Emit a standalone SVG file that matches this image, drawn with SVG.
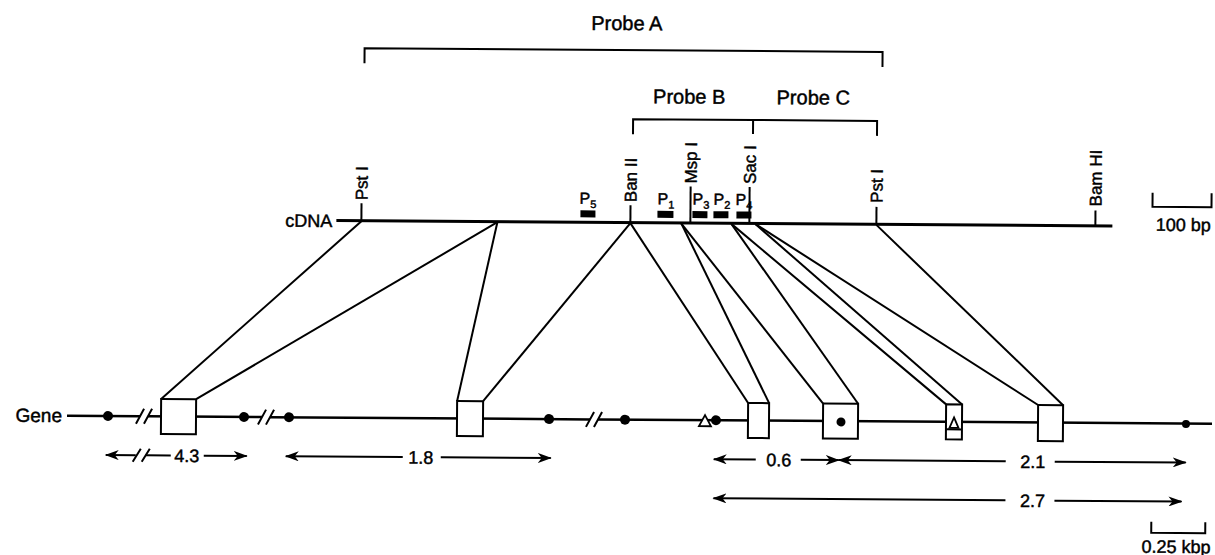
<svg xmlns="http://www.w3.org/2000/svg" width="1215" height="555" viewBox="0 0 1215 555">
<style>
text{font-family:"Liberation Sans",Arial,Helvetica,sans-serif;fill:#000;stroke:#000;stroke-width:0.45}
.ln{stroke:#000;stroke-width:2;fill:none}
.th{stroke:#000;stroke-width:3;fill:none}
.gl{stroke:#000;stroke-width:2.5;fill:none}
.big{font-size:20px}
.re{font-size:17px}
.dm{font-size:18px}
.gn{font-size:19px}
.pl{font-size:16px}
.sub{font-size:11px}
.ex{fill:#fff;stroke:#000;stroke-width:2}
.dot{fill:#000}
.pr{fill:#000}
.arr{stroke:#000;stroke-width:2;fill:none;marker-end:url(#ah)}
</style>
<defs>
<marker id="ah" viewBox="0 0 14 10" refX="13" refY="5" markerWidth="14" markerHeight="10" markerUnits="userSpaceOnUse" orient="auto">
<path d="M0,0 L14,5 L0,10 L4,5 Z" fill="#000"/>
</marker>
</defs>
<rect width="1215" height="555" fill="#fff"/>
<g transform="rotate(0.4 607 277)">
<g id="probe-a">
<path class="ln" d="M363,65 V50 H881 V65"/>
<text class="big" x="625" y="30" text-anchor="middle">Probe A</text>
</g>
<g id="probe-b">
<path class="ln" d="M632,134 V119 H752 V133"/>
<text class="big" x="688" y="103" text-anchor="middle">Probe B</text>
</g>
<g id="probe-c">
<path class="ln" d="M752,119 H876 V134"/>
<text class="big" x="812" y="103" text-anchor="middle">Probe C</text>
</g>
<g id="cdna">
<line class="th" x1="336" y1="222.5" x2="1112" y2="222.5"/>
<text class="dm" x="332" y="229" text-anchor="end">cDNA</text>
</g>
<g id="site-pst1-left">
<line class="ln" x1="361" y1="222.5" x2="361" y2="205"/>
<text class="re" transform="translate(367,202) rotate(-90)">Pst I</text>
</g>
<g id="site-ban2">
<line class="ln" x1="630" y1="222.5" x2="630" y2="205"/>
<text class="re" transform="translate(636,202) rotate(-90)">Ban II</text>
</g>
<g id="site-msp1">
<line class="ln" x1="690" y1="222.5" x2="690" y2="186"/>
<text class="re" transform="translate(696,183) rotate(-90)">Msp I</text>
</g>
<g id="site-sac1">
<line class="ln" x1="749" y1="222.5" x2="749" y2="186"/>
<text class="re" transform="translate(755,183) rotate(-90)">Sac I</text>
</g>
<g id="site-pst1-right">
<line class="ln" x1="876" y1="222.5" x2="876" y2="205"/>
<text class="re" transform="translate(882,201) rotate(-90)">Pst I</text>
</g>
<g id="site-bamh1">
<line class="ln" x1="1095" y1="222.5" x2="1095" y2="207"/>
<text class="re" transform="translate(1101,203) rotate(-90)">Bam HI</text>
</g>
<g id="p5"><rect class="pr" x="580" y="210.5" width="15" height="7"/><text class="pl" x="579" y="204">P<tspan class="sub" dy="4">5</tspan></text></g>
<g id="p1"><rect class="pr" x="657" y="210.5" width="16" height="7"/><text class="pl" x="657" y="204">P<tspan class="sub" dy="4">1</tspan></text></g>
<g id="p3"><rect class="pr" x="692" y="210.5" width="15" height="7"/><text class="pl" x="692" y="204">P<tspan class="sub" dy="4">3</tspan></text></g>
<g id="p2"><rect class="pr" x="713" y="210.5" width="15" height="7"/><text class="pl" x="713" y="204">P<tspan class="sub" dy="4">2</tspan></text></g>
<g id="p4"><rect class="pr" x="736" y="210.5" width="15" height="7"/><text class="pl" x="735" y="204">P<tspan class="sub" dy="4">4</tspan></text></g>
<g id="connectors" class="ln">
<line x1="361" y1="223" x2="162" y2="402"/>
<line x1="497" y1="223" x2="197" y2="402"/>
<line x1="497" y1="223" x2="458" y2="402"/>
<line x1="630" y1="223" x2="484" y2="402"/>
<line x1="630" y1="223" x2="749" y2="402"/>
<line x1="681" y1="223" x2="770" y2="402"/>
<line x1="681" y1="223" x2="824" y2="402"/>
<line x1="731" y1="223" x2="859" y2="402"/>
<line x1="731" y1="223" x2="947" y2="402"/>
<line x1="755" y1="223" x2="963" y2="402"/>
<line x1="755" y1="223" x2="1039" y2="402"/>
<line x1="876" y1="223" x2="1064" y2="402"/>
</g>
<g id="gene">
<text class="gn" x="63" y="426" text-anchor="end">Gene</text>
<path class="gl" d="M68,419.5 H141 M149,419.5 H263 M271,419.5 H591 M599,419.5 H1213"/>
<path class="ln" d="M137,427 L145,412 M145,427 L153,412 M259,427 L267,412 M267,427 L275,412 M587,427 L595,412 M595,427 L603,412"/>
<circle class="dot" cx="109" cy="419.5" r="5"/>
<circle class="dot" cx="245" cy="419.5" r="5"/>
<circle class="dot" cx="290" cy="419.5" r="5"/>
<circle class="dot" cx="550" cy="419.5" r="5"/>
<circle class="dot" cx="626" cy="419.5" r="5"/>
<circle class="dot" cx="717" cy="419.5" r="5"/>
<circle class="dot" cx="1187" cy="420" r="4"/>
<path d="M706,414.5 L712,425.5 L700,425.5 Z" fill="#fff" stroke="#000" stroke-width="1.8"/>
</g>
<g id="exon1"><rect class="ex" x="162" y="402" width="35" height="35"/></g>
<g id="exon2"><rect class="ex" x="458" y="402" width="26" height="35"/></g>
<g id="exon3"><rect class="ex" x="749" y="402" width="21" height="35"/></g>
<g id="exon4"><rect class="ex" x="824" y="402" width="35" height="35"/><circle class="dot" cx="842" cy="420.3" r="4.5"/></g>
<g id="exon5"><rect class="ex" x="947" y="402" width="16" height="35"/><line class="ln" x1="947" y1="427" x2="963" y2="427"/><path d="M955,415 L959.5,425.5 L950.5,425.5 Z" fill="#fff" stroke="#000" stroke-width="1.8"/></g>
<g id="exon6"><rect class="ex" x="1039" y="402" width="25" height="36"/></g>
<g id="dim-43">
<path class="arr" d="M137,458.5 H107"/>
<path class="ln" d="M134,465 L142,452 M143,465 L151,452"/>
<path class="ln" d="M147,458.5 H172"/>
<text class="dm" x="188" y="465" text-anchor="middle">4.3</text>
<path class="arr" d="M205,458.5 H248"/>
</g>
<g id="dim-18">
<path class="arr" d="M404,458.5 H287"/>
<text class="dm" x="422" y="465" text-anchor="middle">1.8</text>
<path class="arr" d="M442,458.5 H552"/>
</g>
<g id="dim-06">
<path class="arr" d="M757,458.5 H715"/>
<text class="dm" x="780" y="465" text-anchor="middle">0.6</text>
<path class="arr" d="M802,458.5 H840"/>
</g>
<g id="dim-21">
<path class="arr" d="M1007,458.5 H840"/>
<text class="dm" x="1034" y="465" text-anchor="middle">2.1</text>
<path class="arr" d="M1056,458.5 H1187"/>
</g>
<g id="dim-27">
<path class="arr" d="M1007,497.5 H715"/>
<text class="dm" x="1034" y="504" text-anchor="middle">2.7</text>
<path class="arr" d="M1056,497.5 H1183"/>
</g>
<g id="scale-bp">
<path class="ln" d="M1152,189 V203 H1211 V189"/>
<text class="dm" x="1183" y="227" text-anchor="middle">100 bp</text>
</g>
<g id="scale-kbp">
<path class="ln" d="M1153,518 V529 H1207 V518"/>
<text class="dm" x="1178" y="549" text-anchor="middle">0.25 kbp</text>
</g>
</g>
</svg>
